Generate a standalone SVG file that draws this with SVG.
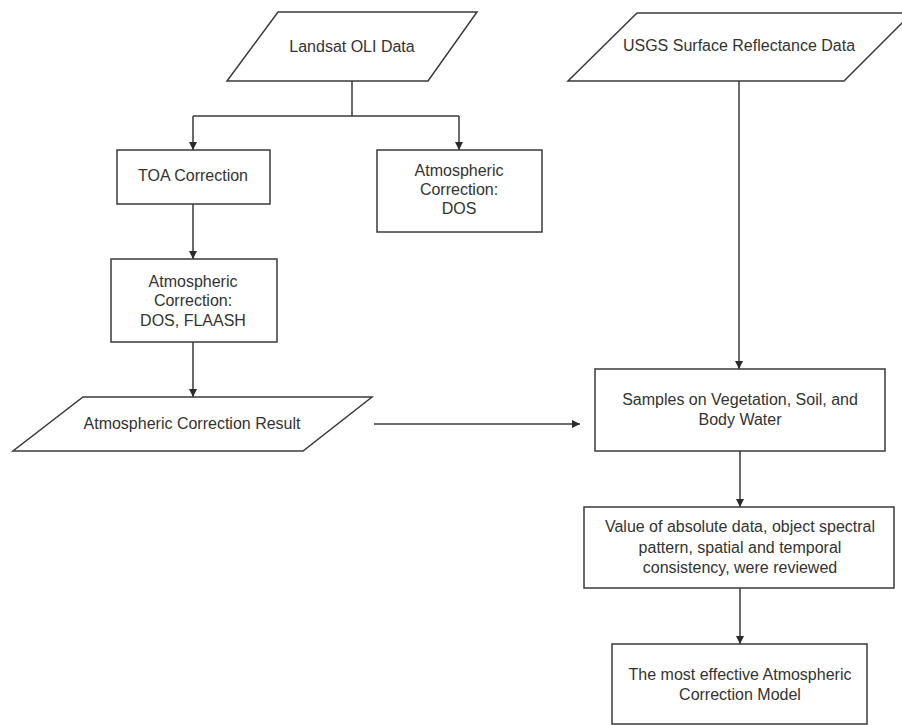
<svg xmlns="http://www.w3.org/2000/svg" width="902" height="725" viewBox="0 0 902 725">
<style>
.s{fill:#fff;stroke:#3a3a3a;stroke-width:1.5}
.c{fill:none;stroke:#3a3a3a;stroke-width:1.5}
text{font-family:"Liberation Sans",Arial,sans-serif;font-size:16px;fill:#333;text-anchor:middle}
</style>
<defs>
<marker id="a" viewBox="0 0 10 10" refX="10" refY="5" markerWidth="8" markerHeight="8" markerUnits="userSpaceOnUse" orient="auto">
<path d="M0,0 L10,5 L0,10 z" fill="#2a2a2a"/>
</marker>
</defs>
<rect width="902" height="725" fill="#fff"/>
<g id="connectors">
<path class="c" d="M352,81 V116"/>
<path class="c" d="M193,116 H459"/>
<path class="c" d="M193,116 V150" marker-end="url(#a)"/>
<path class="c" d="M459,116 V150" marker-end="url(#a)"/>
<path class="c" d="M193,204 V259" marker-end="url(#a)"/>
<path class="c" d="M193,342 V397" marker-end="url(#a)"/>
<path class="c" d="M374,424 H580" marker-end="url(#a)"/>
<path class="c" d="M739,81 V369" marker-end="url(#a)"/>
<path class="c" d="M740,451 V507" marker-end="url(#a)"/>
<path class="c" d="M740,588 V644" marker-end="url(#a)"/>
</g>
<g id="landsat">
<polygon class="s" points="278,12 477,12 428,81 227,81"/>
<text x="352" y="52">Landsat OLI Data</text>
</g>
<g id="usgs">
<polygon class="s" points="637,13 912,13 844,81 568,81"/>
<text x="739" y="51">USGS Surface Reflectance Data</text>
</g>
<g id="toa">
<rect class="s" x="117" y="150" width="153" height="54"/>
<text x="193" y="181">TOA Correction</text>
</g>
<g id="dos">
<rect class="s" x="377" y="150" width="165" height="82"/>
<text x="459" y="176">Atmospheric</text>
<text x="459" y="195">Correction:</text>
<text x="459" y="214">DOS</text>
</g>
<g id="dosflaash">
<rect class="s" x="111" y="259" width="166" height="83"/>
<text x="193" y="287">Atmospheric</text>
<text x="193" y="306">Correction:</text>
<text x="193" y="326">DOS, FLAASH</text>
</g>
<g id="result">
<polygon class="s" points="83,397 372,397 303,451 13,451"/>
<text x="192" y="429">Atmospheric Correction Result</text>
</g>
<g id="samples">
<rect class="s" x="595" y="369" width="290" height="82"/>
<text x="740" y="405">Samples on Vegetation, Soil, and</text>
<text x="740" y="425">Body Water</text>
</g>
<g id="value">
<rect class="s" x="584" y="507" width="310" height="81"/>
<text x="740" y="532">Value of absolute data, object spectral</text>
<text x="740" y="553">pattern, spatial and temporal</text>
<text x="740" y="573">consistency, were reviewed</text>
</g>
<g id="model">
<rect class="s" x="612" y="644" width="255" height="80"/>
<text x="740" y="680">The most effective Atmospheric</text>
<text x="740" y="700">Correction Model</text>
</g>
</svg>
